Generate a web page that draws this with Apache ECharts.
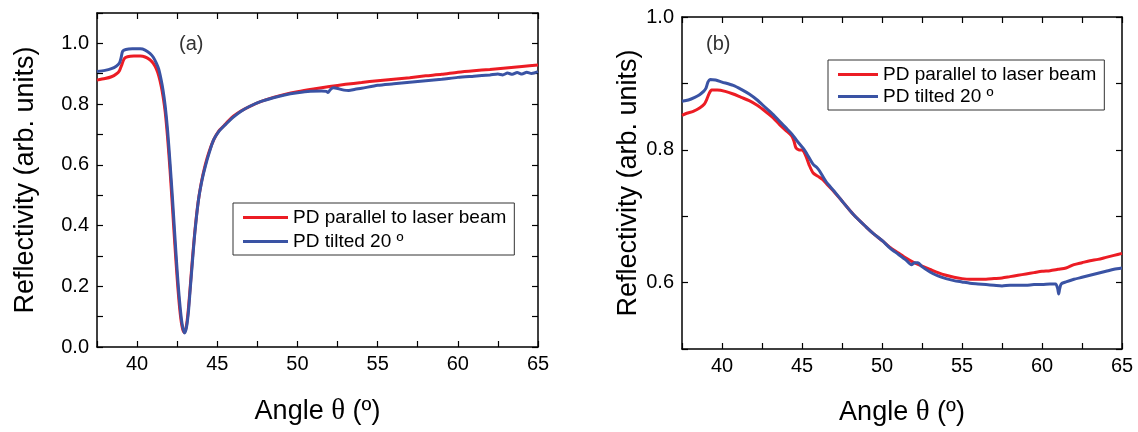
<!DOCTYPE html>
<html>
<head>
<meta charset="utf-8">
<script src="https://cdn.jsdelivr.net/npm/echarts@6/dist/echarts.min.js"></script>
<style>
  html, body { margin: 0; padding: 0; background: #fff; }
  #chart { width: 1138px; height: 432px; }
</style>
</head>
<body>
<div id="chart"></div>
<script>
// panel (a): full resonance scan
var aRedTheta = [37.5, 38.0, 38.4, 38.7, 38.9, 39.05, 39.2, 39.4, 39.8, 40.2, 40.5, 40.8, 41.0, 41.2, 41.35, 41.5, 41.62, 41.75, 41.9, 42.05, 42.2, 42.35, 42.5, 42.65, 42.8, 42.93, 43.05, 43.17, 43.3, 43.45, 43.6, 43.8, 44.0, 44.25, 44.5, 44.8, 45.1, 45.4, 45.7, 46.0, 46.5, 47.0, 47.7, 48.5, 49.2, 50.0, 51.0, 52.0, 53.0, 54.0, 55.0, 56.0, 57.0, 58.0, 59.0, 60.0, 61.0, 62.0, 63.0, 64.0, 65.0];
var aRedR = [0.879, 0.884, 0.890, 0.899, 0.910, 0.930, 0.950, 0.956, 0.958, 0.958, 0.955, 0.946, 0.935, 0.916, 0.893, 0.860, 0.825, 0.775, 0.690, 0.585, 0.465, 0.340, 0.225, 0.130, 0.068, 0.048, 0.062, 0.110, 0.190, 0.290, 0.380, 0.475, 0.540, 0.600, 0.645, 0.685, 0.712, 0.728, 0.745, 0.760, 0.778, 0.792, 0.808, 0.822, 0.832, 0.841, 0.850, 0.858, 0.865, 0.871, 0.877, 0.882, 0.887, 0.893, 0.898, 0.905, 0.910, 0.914, 0.919, 0.924, 0.929];

var aBlueTheta = [37.5, 38.0, 38.4, 38.7, 38.9, 39.0, 39.1, 39.3, 39.7, 40.2, 40.5, 40.8, 41.0, 41.2, 41.35, 41.5, 41.62, 41.75, 41.9, 42.05, 42.2, 42.35, 42.5, 42.65, 42.8, 42.96, 43.08, 43.2, 43.31, 43.45, 43.6, 43.83, 44.05, 44.25, 44.5, 44.77, 45.1, 45.4, 45.6, 46.0, 46.44, 47.0, 47.69, 48.5, 49.2, 50.0, 50.8, 51.5, 51.8, 51.9, 52.05, 52.25, 52.6, 52.9, 53.2, 53.6, 54.0, 55.0, 56.0, 57.0, 58.0, 59.0, 60.0, 61.0, 62.0, 62.5, 62.8, 63.1, 63.4, 63.7, 64.0, 64.3, 64.6, 65.0];
var aBlueR = [0.907, 0.911, 0.917, 0.925, 0.935, 0.952, 0.974, 0.980, 0.982, 0.982, 0.978, 0.967, 0.955, 0.935, 0.915, 0.880, 0.845, 0.795, 0.715, 0.610, 0.495, 0.370, 0.250, 0.150, 0.078, 0.046, 0.065, 0.115, 0.188, 0.280, 0.375, 0.485, 0.550, 0.594, 0.640, 0.682, 0.710, 0.727, 0.737, 0.757, 0.775, 0.792, 0.808, 0.821, 0.830, 0.837, 0.842, 0.843, 0.842, 0.838, 0.848, 0.854, 0.850, 0.846, 0.845, 0.849, 0.852, 0.862, 0.867, 0.872, 0.877, 0.882, 0.888, 0.892, 0.896, 0.899, 0.896, 0.902, 0.898, 0.904, 0.899, 0.905, 0.901, 0.907];

// panel (b): zoomed reflectivity
var bRedTheta = [37.5, 37.8, 38.2, 38.6, 38.9, 39.05, 39.2, 39.35, 39.7, 40.2, 40.7, 41.2, 41.7, 42.2, 42.7, 43.2, 43.6, 44.0, 44.35, 44.5, 44.62, 44.8, 45.05, 45.25, 45.45, 45.7, 46.0, 46.3, 46.6, 47.0, 47.5, 48.2, 49.0, 49.5, 50.07, 50.5, 51.0, 51.5, 52.0, 52.4, 53.0, 53.5, 54.0, 54.5, 55.0, 55.5, 56.0, 56.5, 57.0, 57.5, 58.0, 58.5, 59.0, 59.5, 60.0, 60.5, 61.0, 61.5, 62.0, 62.5, 63.0, 63.5, 64.0, 64.5, 65.0];
var bRedR = [0.852, 0.855, 0.858, 0.863, 0.869, 0.876, 0.885, 0.890, 0.890, 0.888, 0.884, 0.879, 0.874, 0.867, 0.858, 0.848, 0.838, 0.829, 0.821, 0.813, 0.803, 0.800, 0.799, 0.790, 0.777, 0.765, 0.760, 0.755, 0.747, 0.737, 0.723, 0.703, 0.684, 0.673, 0.662, 0.653, 0.645, 0.637, 0.630, 0.626, 0.620, 0.615, 0.611, 0.608, 0.606, 0.605, 0.605, 0.605, 0.606, 0.607, 0.609, 0.611, 0.613, 0.615, 0.617, 0.618, 0.620, 0.622, 0.627, 0.630, 0.633, 0.635, 0.638, 0.641, 0.644];

var bBlueTheta = [37.5, 37.9, 38.3, 38.6, 38.85, 39.0, 39.12, 39.25, 39.6, 40.0, 40.7, 41.2, 41.7, 42.2, 42.7, 43.2, 43.63, 44.0, 44.36, 44.67, 45.08, 45.4, 45.7, 45.9, 46.1, 46.5, 47.0, 47.5, 48.2, 49.0, 49.5, 50.07, 50.5, 51.0, 51.5, 51.84, 52.05, 52.25, 52.5, 53.0, 53.5, 54.0, 54.5, 55.0, 55.5, 56.0, 56.5, 57.0, 57.5, 58.0, 58.5, 59.0, 59.5, 60.0, 60.5, 60.85, 60.98, 61.04, 61.1, 61.2, 61.5, 62.0, 62.5, 63.0, 63.5, 64.0, 64.5, 65.0];
var bBlueR = [0.873, 0.875, 0.879, 0.883, 0.888, 0.893, 0.902, 0.906, 0.905, 0.902, 0.897, 0.891, 0.884, 0.875, 0.864, 0.853, 0.842, 0.833, 0.824, 0.814, 0.802, 0.790, 0.778, 0.774, 0.768, 0.752, 0.738, 0.723, 0.703, 0.684, 0.673, 0.662, 0.652, 0.643, 0.634, 0.627, 0.630, 0.630, 0.624, 0.616, 0.610, 0.606, 0.603, 0.601, 0.599, 0.598, 0.597, 0.596, 0.595, 0.596, 0.596, 0.596, 0.597, 0.597, 0.598, 0.598, 0.591, 0.583, 0.590, 0.598, 0.601, 0.605, 0.608, 0.611, 0.614, 0.617, 0.620, 0.622];

var xLabels = [40, 45, 50, 55, 60, 65];
var yLabelsA = [0.0, 0.2, 0.4, 0.6, 0.8, 1.0];
var yLabelsB = [0.6, 0.8, 1.0];

var seriesNames = ['PD parallel to laser beam', 'PD tilted 20 º'];
var red = '#ec1c24';
var blue = '#3a53a4';
var font = 'Liberation Sans, Arial, sans-serif';

function pairs(xs, ys) {
  return xs.map(function (x, i) { return [x, ys[i]]; });
}

// only label the values in the list, with a fixed number of decimals
function shown(list, decimals) {
  return function (v) {
    for (var i = 0; i < list.length; i++) {
      if (Math.abs(list[i] - v) < 1e-6) return list[i].toFixed(decimals);
    }
    return '';
  };
}

var axisLine = { show: true, onZero: false, lineStyle: { color: '#000', width: 1.5 } };
var tick = { inside: true, length: 6, lineStyle: { color: '#000', width: 1.2 } };

function xAxes(grid, gap) {
  return [{
    gridIndex: grid, type: 'value', position: 'bottom',
    min: 37.5, max: 65, interval: 2.5,
    axisLine: axisLine, axisTick: tick,
    axisLabel: { formatter: shown(xLabels, 0), fontSize: 20, color: '#000', fontFamily: font, margin: 7 },
    splitLine: { show: false },
    name: 'Angle {t|θ} (º)', nameLocation: 'middle', nameGap: gap,
    nameTextStyle: {
      fontSize: 27, color: '#000', fontFamily: font,
      rich: { t: { fontSize: 29, fontFamily: 'Liberation Serif, DejaVu Serif, serif', color: '#000' } }
    }
  }, {
    gridIndex: grid, type: 'value', position: 'top',
    min: 37.5, max: 65, interval: 2.5,
    axisLine: axisLine, axisTick: tick,
    axisLabel: { show: false },
    splitLine: { show: false }
  }];
}

function yAxes(grid, min, max, labels, gap) {
  return [{
    gridIndex: grid, type: 'value', position: 'left',
    min: min, max: max, interval: 0.1,
    axisLine: axisLine, axisTick: tick,
    axisLabel: { formatter: shown(labels, 1), fontSize: 20, color: '#000', fontFamily: font, margin: 8 },
    splitLine: { show: false },
    name: 'Reflectivity (arb. units)', nameLocation: 'middle', nameGap: gap,
    nameTextStyle: { fontSize: 27, color: '#000', fontFamily: font }
  }, {
    gridIndex: grid, type: 'value', position: 'right',
    min: min, max: max, interval: 0.1,
    axisLine: axisLine, axisTick: tick,
    axisLabel: { show: false },
    splitLine: { show: false }
  }];
}

function line(name, color, grid, data) {
  return {
    name: name, type: 'line', xAxisIndex: grid * 2, yAxisIndex: grid * 2,
    data: data, showSymbol: false, symbol: 'none', smooth: 0.25,
    lineStyle: { color: color, width: 3 }, itemStyle: { color: color },
    animation: false
  };
}

function legend(left, top, width, gap) {
  return {
    left: left, top: top, orient: 'vertical', data: seriesNames,
    icon: 'rect', itemWidth: width, itemHeight: 3, itemGap: gap,
    selectedMode: false,
    borderColor: '#333', borderWidth: 1, borderRadius: 0,
    padding: [5, 8, 4, 10],
    textStyle: { fontSize: 19, lineHeight: 19, color: '#000', fontFamily: font }
  };
}

var chart = echarts.init(document.getElementById('chart'));
chart.setOption({
  backgroundColor: '#fff',
  animation: false,
  grid: [
    { left: 97, top: 13, width: 441, height: 334 },
    { left: 682, top: 17, width: 440, height: 335 }
  ],
  xAxis: xAxes(0, 50).concat(xAxes(1, 49)),
  yAxis: yAxes(0, 0, 1.1, yLabelsA, 58).concat(yAxes(1, 0.5, 1.0, yLabelsB, 38)),
  legend: [legend(233, 203, 45, 5), legend(828, 60, 40, 3)],
  graphic: [
    { type: 'text', left: 179, top: 34, style: { text: '(a)', fontSize: 20, fill: '#333', fontFamily: font } },
    { type: 'text', left: 706, top: 34, style: { text: '(b)', fontSize: 20, fill: '#333', fontFamily: font } }
  ],
  series: [
    line(seriesNames[0], red, 0, pairs(aRedTheta, aRedR)),
    line(seriesNames[1], blue, 0, pairs(aBlueTheta, aBlueR)),
    line(seriesNames[0], red, 1, pairs(bRedTheta, bRedR)),
    line(seriesNames[1], blue, 1, pairs(bBlueTheta, bBlueR))
  ]
});
</script>
</body>
</html>
